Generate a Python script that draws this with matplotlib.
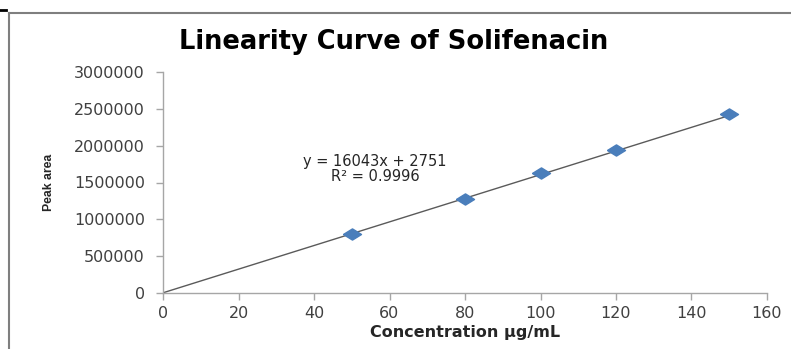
import matplotlib
matplotlib.use("Agg")
import matplotlib.pyplot as plt
import numpy as np
from matplotlib import font_manager as fm
from matplotlib.lines import Line2D

# ---- data ----
concentration = [50, 80, 100, 120, 150]
peak_area = [805000, 1282000, 1628000, 1937000, 2430000]
slope = 16043
intercept = 2751
r_squared = 0.9996
x_ticks = [0, 20, 40, 60, 80, 100, 120, 140, 160]
y_ticks = [0, 500000, 1000000, 1500000, 2000000, 2500000, 3000000]
title = "Linearity Curve of Solifenacin"
x_label = "Concentration \u00b5g/mL"
y_label = "Peak area"

def has_font(name):
    try:
        fm.findfont(fm.FontProperties(family=name), fallback_to_default=False)
        return True
    except Exception:
        return False

narrow = "Liberation Sans Narrow" if has_font("Liberation Sans Narrow") else "Liberation Sans"

plt.rcParams['font.family'] = ['DejaVu Sans']

fig = plt.figure(figsize=(7.91, 3.49), dpi=100)
ax = fig.add_axes([163/791, 1-293/349, (767-163)/791, (293-72)/349])

# trendline
xt = np.array([0, max(concentration)])
ax.plot(xt, slope*xt + intercept, color="#5a5a5a", lw=1.0, zorder=2)

diamond = [(-1, 0), (0, 0.62), (1, 0), (0, -0.62), (-1, 0)]
ax.plot(concentration, peak_area, linestyle="none", marker=diamond,
        markersize=13, color="#4a7ebb", markeredgecolor="#4a7ebb", zorder=3)

ax.set_xlim(0, 160)
ax.set_ylim(0, 3000000)
ax.set_xticks(x_ticks)
ax.set_yticks(y_ticks)
ax.set_xticklabels([str(v) for v in x_ticks])
ax.set_yticklabels([str(v) for v in y_ticks])

for s in ["top", "right"]:
    ax.spines[s].set_visible(False)
for s in ["left", "bottom"]:
    ax.spines[s].set_color("#a6a6a6")
    ax.spines[s].set_linewidth(1.0)

ax.tick_params(axis="both", direction="out", length=5, width=1, color="#a6a6a6",
               labelsize=11.5, labelcolor="#404040")
ax.tick_params(axis="x", pad=4)
ax.tick_params(axis="y", pad=8)

ax.set_xlabel(x_label, fontsize=11.5, fontweight="bold", color="#262626", labelpad=3)
ax.set_ylabel(y_label, fontsize=8.8, fontweight="bold", color="#262626",
              family=narrow, labelpad=14)

fig.text(394/791, 1-42/349, title, ha="center", va="center",
         fontsize=18.5, fontweight="bold", color="#000000")

fig.text(375/791, 1-169/349, "y = 16043x + 2751\nR\u00b2 = 0.9996", ha="center",
         va="center", fontsize=10.5, color="#262626", linespacing=1.05, multialignment="center")

# chart frame
fig.add_artist(Line2D([9/791, 9/791], [0, 1-13/349], transform=fig.transFigure,
                      color="#7f7f7f", lw=1.5))
fig.add_artist(Line2D([9/791, 1], [1-13/349, 1-13/349], transform=fig.transFigure,
                      color="#7f7f7f", lw=1.5))
fig.add_artist(Line2D([0, 6/791], [1-10/349, 1-10/349], transform=fig.transFigure,
                      color="#000000", lw=2))

fig.savefig("out.png", dpi=100)
